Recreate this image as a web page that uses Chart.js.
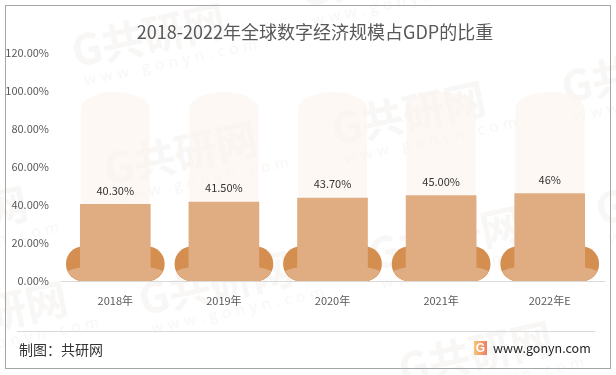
<!DOCTYPE html>
<html>
<head>
<meta charset="utf-8">
<script src="https://cdn.jsdelivr.net/npm/chart.js@4/dist/chart.umd.min.js"></script>
<style>
    body { margin: 0; background: #fff; font-family: "Noto Sans CJK SC", sans-serif; }
    #wrap { position: relative; width: 616px; height: 375px; overflow: hidden; }
    #frame { position: absolute; left: 5px; top: 5px; width: 604px; height: 362px; border: 1px solid #a6a6a6; }
    #title { position: absolute; left: 0; top: 19px; width: 630px; text-align: center; font-size: 18px; line-height: 24px; color: #595959; }
    #lineBottom { position: absolute; left: 17px; top: 331px; width: 578px; height: 1px; background: #d9d9d9; }
    #credit { position: absolute; left: 19px; top: 340px; font-size: 14px; line-height: 18px; color: #333; }
    #site { position: absolute; left: 493px; top: 339px; font-size: 12.5px; line-height: 18px; color: #222; }
    #logo { position: absolute; left: 474px; top: 341px; width: 13px; height: 14px; background: linear-gradient(90deg, #f6c474, #ee7d62);
        color: #fff; font: bold 12px/14px "Liberation Sans"; text-align: center; }
    .mark { position: absolute; color: #f8f7f6; transform: rotate(-12deg); transform-origin: 0 0; white-space: nowrap; }
    .mark b { display: block; font: bold 42px/36px "Noto Sans CJK SC"; }
    .mark i { display: block; font: normal 15px/20px "Open Sans"; letter-spacing: 5px; margin: 4px 0 0 6px; }
    canvas { position: absolute; left: 0; top: 0; }
</style>
</head>
<body>
<div id="wrap">
    <div id="marks"></div>
    <div id="frame"></div>
    <canvas id="barChart" width="616" height="375"></canvas>
    <div id="title"></div>
    <div id="lineBottom"></div>
    <div id="credit">制图：共研网</div>
    <div id="logo">G</div>
    <div id="site">www.gonyn.com</div>
</div>
<script>
var categories = ['2018年', '2019年', '2020年', '2021年', '2022年E'];
var shareValues = [40.3, 41.5, 43.7, 45.0, 46.0];
var shareLabels = ['40.30%', '41.50%', '43.70%', '45.00%', '46%'];
var shellValues = [99.5, 99.5, 99.5, 99.5, 99.5];
var footValues = [18, 18, 18, 18, 18];
var footTopValues = [8.5, 8.5, 8.5, 8.5, 8.5];
var titleText = '2018-2022年全球数字经济规模占GDP的比重';
var fontName = '"Noto Sans CJK SC", sans-serif';

document.getElementById('title').textContent = titleText;

// watermark stamps, left / top of each one
var markSpots = [[68, 32], [100, 150], [328, 110], [558, 68], [296, -28], [135, 280], [-90, 310], [395, 350], [365, 235], [-130, 215], [592, 190]];
var marksBox = document.getElementById('marks');
markSpots.forEach(function (s) {
    var el = document.createElement('div');
    el.className = 'mark';
    el.style.left = s[0] + 'px';
    el.style.top = s[1] + 'px';
    el.innerHTML = '<b>G共研网</b><i>www.gonyn.com</i>';
    marksBox.appendChild(el);
});

// draws the shell with an oval top and the light part of the foot
var shapePlugin = {
    id: 'shapes',
    afterDatasetDraw: function (chart, args) {
        var ctx = chart.ctx;
        if (args.index === 0) {
            chart.getDatasetMeta(0).data.forEach(function (bar) {
                var rx = bar.width / 2, ry = 17;
                ctx.save();
                ctx.fillStyle = 'rgba(252, 243, 237, 0.6)';
                ctx.beginPath();
                ctx.moveTo(bar.x - rx, bar.base);
                ctx.lineTo(bar.x - rx, bar.y + ry);
                ctx.ellipse(bar.x, bar.y + ry, rx, ry, 0, Math.PI, 0);
                ctx.lineTo(bar.x + rx, bar.base);
                ctx.closePath();
                ctx.fill();
                ctx.restore();
            });
        }
        if (args.index === 2) {
            var feet = chart.getDatasetMeta(1).data;
            chart.getDatasetMeta(2).data.forEach(function (bar, i) {
                var foot = feet[i];
                var ry = 9;
                ctx.save();
                ctx.beginPath();
                ctx.roundRect(foot.x - foot.width / 2, foot.y, foot.width, foot.base - foot.y, 17);
                ctx.clip();
                ctx.fillStyle = '#e0ac82';
                ctx.beginPath();
                ctx.ellipse(bar.x, bar.y + ry, foot.width / 2 + 1, ry, 0, 0, Math.PI * 2);
                ctx.rect(foot.x - foot.width / 2, bar.y + ry, foot.width, bar.base - bar.y - ry);
                ctx.fill('nonzero');
                ctx.restore();
            });
        }
    }
};

// value text above each column
var labelPlugin = {
    id: 'shareLabels',
    afterDatasetsDraw: function (chart) {
        var ctx = chart.ctx;
        ctx.save();
        ctx.font = '11px ' + fontName;
        ctx.fillStyle = '#333';
        ctx.textAlign = 'center';
        ctx.textBaseline = 'middle';
        chart.getDatasetMeta(3).data.forEach(function (bar, i) {
            ctx.fillText(shareLabels[i], bar.x, bar.y - 14);
        });
        ctx.restore();
    }
};

new Chart(document.getElementById('barChart').getContext('2d'), {
    type: 'bar',
    plugins: [shapePlugin, labelPlugin],
    data: {
        labels: categories,
        datasets: [
            { label: 'shell', data: shellValues, backgroundColor: 'transparent', barThickness: 69, grouped: false, order: 4 },
            { label: 'foot', data: footValues, backgroundColor: '#d48f50', barThickness: 98, borderRadius: 17, borderSkipped: false, grouped: false, order: 3 },
            { label: 'footTop', data: footTopValues, backgroundColor: 'transparent', barThickness: 98, grouped: false, order: 2 },
            { label: 'share', data: shareValues, backgroundColor: '#e0ac82', barThickness: 70, grouped: false, order: 1 }
        ]
    },
    options: {
        responsive: false,
        animation: false,
        layout: { padding: { left: 0, right: 12, top: 53, bottom: 55 } },
        plugins: {
            legend: { display: false },
            tooltip: { enabled: false }
        },
        scales: {
            x: {
                afterFit: function (scale) { scale.height = 39; },
                grid: { display: false },
                border: { color: '#d9d9d9' },
                ticks: { color: '#595959', padding: 5, maxRotation: 0, font: { size: 11, family: fontName } }
            },
            y: {
                min: 0,
                max: 120,
                afterFit: function (scale) { scale.width = 61; },
                grid: { display: false },
                border: { display: false },
                ticks: {
                    stepSize: 20,
                    color: '#595959',
                    padding: 4,
                    font: { size: 11, family: fontName },
                    callback: function (v) { return v.toFixed(2) + '%'; }
                }
            }
        }
    }
});
</script>
</body>
</html>
